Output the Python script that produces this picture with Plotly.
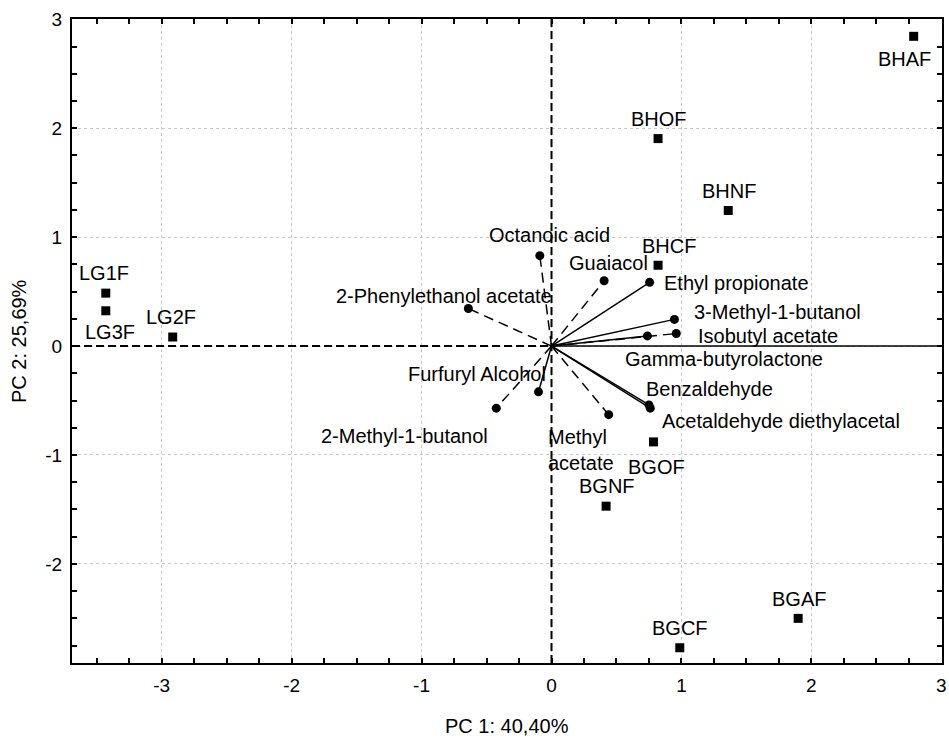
import plotly.graph_objects as go

# ---- data ----
score_names = ["LG1F", "LG3F", "LG2F", "BHAF", "BHOF", "BHNF", "BHCF",
               "BGOF", "BGNF", "BGCF", "BGAF"]
score_x = [-3.43, -3.43, -2.915, 2.787, 0.82, 1.36, 0.82, 0.785, 0.42, 0.987, 1.898]
score_y = [0.486, 0.324, 0.083, 2.844, 1.905, 1.245, 0.742, -0.88, -1.47, -2.77, -2.50]

var_names = ["Octanoic acid", "Guaiacol", "Ethyl propionate", "3-Methyl-1-butanol",
             "Isobutyl acetate", "Gamma-butyrolactone", "Benzaldehyde",
             "Acetaldehyde diethylacetal", "Methyl<br>acetate", "Furfuryl Alcohol",
             "2-Methyl-1-butanol", "2-Phenylethanol acetate"]
var_x = [-0.09, 0.405, 0.755, 0.946, 0.96, 0.738, 0.75, 0.76, 0.44, -0.10, -0.425, -0.64]
var_y = [0.83, 0.60, 0.585, 0.245, 0.115, 0.093, -0.54, -0.57, -0.63, -0.42, -0.57, 0.345]

x_ticks = [-3, -2, -1, 0, 1, 2, 3]
y_ticks = [-2, -1, 0, 1, 2, 3]
x_title = "PC 1: 40,40%"
y_title = "PC 2: 25,69%"

# ---- styles ----
FONT = "Liberation Sans, Arial, sans-serif"
LBL = 20
vector_dashed = [True, True, False, False, True, False, False, False, True, False, True, True]
# label offsets (px) and anchors for variable labels
var_label_style = [
    (10, 21, "center"), (4, 18, "center"), (12, -1, "left"), (18, 7, "left"),
    (20, -2, "left"), (-24, -23, "left"), (-5, 16, "left"), (10, -13, "left"),
    (-63, -35, "left"), (-62, 18, "center"), (-6, -28, "right"), (-24, 12, "center"),
]
score_label_style = [
    (-2, 20), (4, -21), (-2, 20), (-9, -23), (1, 20), (1, 19), (11, 19),
    (3, -25), (1, 20), (0, 20), (1, 19),
]

X_RANGE = [-3.69, 3.005]
Y_RANGE = [-2.91, 3.003]

fig = go.Figure()

# reference lines through origin
fig.add_shape(type="line", x0=X_RANGE[0], x1=0, y0=0, y1=0,
              line=dict(color="black", width=2, dash="8px,4px"), layer="above")
fig.add_shape(type="line", x0=0, x1=X_RANGE[1], y0=0, y1=0,
              line=dict(color="black", width=1.5), layer="above")
fig.add_shape(type="line", x0=0, x1=0, y0=Y_RANGE[0], y1=Y_RANGE[1],
              line=dict(color="black", width=2, dash="8px,4px"), layer="above")

# loading vectors
for name, vx, vy, dashed in zip(var_names, var_x, var_y, vector_dashed):
    fig.add_trace(go.Scatter(
        x=[0, vx], y=[0, vy], mode="lines",
        line=dict(color="black", width=1.5, dash="10px,6px" if dashed else "solid"),
        hoverinfo="skip", showlegend=False))

fig.add_trace(go.Scatter(x=var_x, y=var_y, mode="markers",
                         marker=dict(symbol="circle", size=9, color="black"),
                         text=var_names, showlegend=False))

fig.add_trace(go.Scatter(x=score_x, y=score_y, mode="markers",
                         marker=dict(symbol="square", size=9, color="black"),
                         text=score_names, showlegend=False))

for name, vx, vy, (dx, dy, anc) in zip(var_names, var_x, var_y, var_label_style):
    fig.add_annotation(x=vx, y=vy, text=name, showarrow=False,
                       xanchor=anc, yanchor="middle", align="left",
                       xshift=dx, yshift=dy,
                       font=dict(family=FONT, size=LBL, color="black"))

for name, sx, sy, (dx, dy) in zip(score_names, score_x, score_y, score_label_style):
    fig.add_annotation(x=sx, y=sy, text=name, showarrow=False,
                       xanchor="center", yanchor="middle",
                       xshift=dx, yshift=dy,
                       font=dict(family=FONT, size=LBL, color="black"))

# axis titles
fig.add_annotation(x=0.5, y=0, xref="paper", yref="paper", text=x_title,
                   showarrow=False, xanchor="center", yanchor="top", yshift=-50,
                   font=dict(family=FONT, size=LBL, color="black"))
fig.add_annotation(x=0, y=0.5, xref="paper", yref="paper", text=y_title,
                   showarrow=False, xanchor="right", yanchor="middle", xshift=-40,
                   textangle=-90,
                   font=dict(family=FONT, size=LBL, color="black"))

axis_common = dict(
    showline=True, linecolor="black", linewidth=2, mirror="ticks",
    ticks="inside", ticklen=5, tickwidth=1.5, tickcolor="black",
    showgrid=True, gridcolor="#c8c8c8", griddash="dot", gridwidth=1,
    zeroline=False,
    tickfont=dict(family=FONT, size=19, color="black"),
)

fig.update_xaxes(range=X_RANGE, tickvals=x_ticks, ticktext=[str(t) for t in x_ticks],
                 minor=dict(dtick=0.25, ticks="inside", ticklen=5, tickwidth=1.5,
                            tickcolor="black", showgrid=False, tick0=0),
                 ticklabelstandoff=4, **axis_common)
fig.update_yaxes(range=Y_RANGE, tickvals=y_ticks, ticktext=[str(t) for t in y_ticks],
                 minor=dict(dtick=0.25, ticks="inside", ticklen=5, tickwidth=1.5,
                            tickcolor="black", showgrid=False, tick0=0),
                 ticklabelstandoff=4, **axis_common)

fig.update_layout(
    width=949, height=740,
    margin=dict(l=72, r=7, t=19, b=77, autoexpand=False),
    plot_bgcolor="white", paper_bgcolor="white",
    showlegend=False,
    font=dict(family=FONT, color="black"),
)

fig.write_html("out.html")
